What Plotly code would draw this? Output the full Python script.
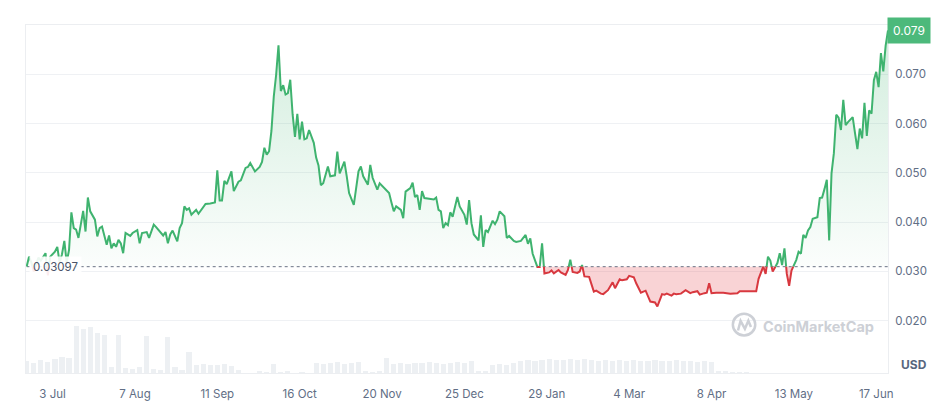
import numpy as np
import pandas as pd
import plotly.graph_objects as go

# precio diario (dias desde el inicio) y volumen
start = pd.Timestamp("2023-06-22")
base = 0.03097

days = [0, 1, 2, 3, 5, 6, 8, 9, 10, 12,
        13, 14, 15, 16, 17, 18, 19, 20, 21, 22,
        24, 25, 26, 27, 29, 30, 31, 32, 33, 34,
        35, 36, 37, 38, 39, 40, 41, 42, 44, 45,
        47, 48, 49, 51, 52, 54, 55, 56, 58, 59,
        60, 61, 62, 64, 65, 66, 67, 68, 69, 70,
        71, 72, 73, 75, 76, 78, 80, 81, 82, 83,
        84, 85, 87, 88, 90, 91, 93, 94, 95, 97,
        99, 100, 101, 102, 103, 104, 105, 106, 107, 108,
        109, 110, 111, 112, 113, 114, 115, 116, 117, 118,
        119, 120, 121, 122, 123, 124, 125, 126, 128, 129,
        131, 132, 133, 135, 136, 137, 139, 140, 141, 142,
        143, 145, 146, 147, 149, 150, 152, 154, 155, 156,
        157, 159, 160, 161, 163, 164, 165, 166, 167, 168,
        169, 171, 173, 174, 175, 176, 177, 178, 179, 180,
        181, 183, 184, 186, 187, 188, 189, 190, 192, 193,
        194, 195, 196, 198, 199, 200, 201, 203, 204, 205,
        207, 208, 210, 212, 213, 214, 215, 217, 218, 219,
        220, 222, 223, 224, 226, 227, 229, 230, 231, 232,
        234, 235, 236, 237, 239, 241, 242, 244, 245, 247,
        248, 249, 250, 252, 253, 255, 256, 258, 259, 261,
        263, 265, 267, 268, 270, 271, 272, 274, 275, 276,
        278, 280, 282, 283, 285, 286, 288, 289, 290, 291,
        293, 296, 299, 302, 303, 306, 310, 311, 313, 314,
        315, 316, 317, 319, 320, 321, 322, 323, 324, 325,
        327, 328, 329, 330, 331, 332, 333, 334, 336, 337,
        338, 339, 340, 341, 342, 343, 344, 345, 346, 347,
        348, 349, 351, 352, 353, 354, 355, 356, 357, 358,
        359, 360, 361, 362, 363, 364, 365, 366]

price = [0.0310, 0.0330, 0.0318, 0.0300, 0.0328, 0.0322, 0.0337, 0.0292, 0.0330, 0.0340,
         0.0350, 0.0318, 0.0335, 0.0362, 0.0318, 0.0344, 0.0420, 0.0388, 0.0385, 0.0368,
         0.0423, 0.0381, 0.0450, 0.0422, 0.0405, 0.0371, 0.0388, 0.0391, 0.0375, 0.0354,
         0.0373, 0.0347, 0.0357, 0.0350, 0.0364, 0.0357, 0.0337, 0.0378, 0.0372, 0.0378,
         0.0384, 0.0357, 0.0378, 0.0380, 0.0368, 0.0395, 0.0390, 0.0385, 0.0373, 0.0380,
         0.0357, 0.0375, 0.0383, 0.0361, 0.0388, 0.0398, 0.0432, 0.0425, 0.0428, 0.0415,
         0.0420, 0.0425, 0.0417, 0.0430, 0.0437, 0.0438, 0.0440, 0.0505, 0.0444, 0.0444,
         0.0484, 0.0477, 0.0503, 0.0463, 0.0482, 0.0485, 0.0510, 0.0512, 0.0520, 0.0503,
         0.0512, 0.0522, 0.0551, 0.0537, 0.0544, 0.0585, 0.0655, 0.0699, 0.0759, 0.0666,
         0.0678, 0.0659, 0.0662, 0.0689, 0.0619, 0.0573, 0.0620, 0.0568, 0.0604, 0.0568,
         0.0570, 0.0587, 0.0575, 0.0561, 0.0531, 0.0515, 0.0475, 0.0479, 0.0513, 0.0493,
         0.0495, 0.0543, 0.0499, 0.0523, 0.0493, 0.0459, 0.0435, 0.0466, 0.0503, 0.0513,
         0.0493, 0.0476, 0.0516, 0.0490, 0.0466, 0.0479, 0.0469, 0.0459, 0.0440, 0.0422,
         0.0432, 0.0425, 0.0408, 0.0462, 0.0469, 0.0480, 0.0451, 0.0455, 0.0425, 0.0463,
         0.0449, 0.0447, 0.0446, 0.0450, 0.0425, 0.0422, 0.0388, 0.0398, 0.0394, 0.0420,
         0.0411, 0.0451, 0.0432, 0.0415, 0.0395, 0.0445, 0.0398, 0.0375, 0.0363, 0.0414,
         0.0350, 0.0384, 0.0380, 0.0403, 0.0396, 0.0405, 0.0422, 0.0412, 0.0368, 0.0372,
         0.0362, 0.0360, 0.0362, 0.0374, 0.0356, 0.0367, 0.0336, 0.0309, 0.0309, 0.0357,
         0.0296, 0.0298, 0.0302, 0.0296, 0.0303, 0.0298, 0.0293, 0.0303, 0.0324, 0.0299,
         0.0297, 0.0300, 0.0313, 0.0290, 0.0289, 0.0259, 0.0261, 0.0255, 0.0254, 0.0262,
         0.0270, 0.0278, 0.0266, 0.0284, 0.0282, 0.0284, 0.0291, 0.0288, 0.0276, 0.0257,
         0.0261, 0.0239, 0.0237, 0.0229, 0.0254, 0.0253, 0.0255, 0.0251, 0.0255, 0.0254,
         0.0255, 0.0262, 0.0256, 0.0258, 0.0260, 0.0253, 0.0256, 0.0257, 0.0276, 0.0256,
         0.0257, 0.0257, 0.0255, 0.0256, 0.0260, 0.0260, 0.0260, 0.0285, 0.0310, 0.0295,
         0.0330, 0.0322, 0.0300, 0.0317, 0.0337, 0.0313, 0.0347, 0.0295, 0.0271, 0.0302,
         0.0323, 0.0340, 0.0336, 0.0374, 0.0368, 0.0383, 0.0390, 0.0407, 0.0410, 0.0449,
         0.0450, 0.0467, 0.0486, 0.0363, 0.0499, 0.0540, 0.0618, 0.0612, 0.0587, 0.0648,
         0.0597, 0.0603, 0.0613, 0.0580, 0.0548, 0.0590, 0.0570, 0.0642, 0.0575, 0.0627,
         0.0620, 0.0688, 0.0705, 0.0674, 0.0743, 0.0706, 0.0758, 0.0789]

# volumen cada 3 dias (escala relativa)
vol_step = 3
volume = [12, 10, 13, 11, 14, 16, 15, 47, 44, 46,
          40, 38, 6, 38, 5, 4, 6, 37, 4, 3,
          36, 6, 3, 21, 8, 9, 8, 8, 9, 7,
          3, 0, 0, 2, 1, 9, 1, 2, 0, 1,
          0, 10, 9, 10, 11, 9, 10, 11, 2, 1,
          2, 15, 9, 10, 9, 10, 10, 11, 10, 9,
          10, 11, 10, 12, 2, 2, 8, 9, 8, 10,
          12, 13, 12, 13, 14, 13, 13, 14, 13, 14,
          13, 12, 13, 12, 13, 12, 13, 12, 12, 13,
          12, 12, 13, 12, 12, 11, 12, 11, 2, 2,
          1, 1, 1]

tick_dates = ["2023-07-03", "2023-08-07", "2023-09-11", "2023-10-16", "2023-11-20", "2023-12-25",
              "2024-01-29", "2024-03-04", "2024-04-08", "2024-05-13", "2024-06-17"]
tick_text = ["3 Jul", "7 Aug", "11 Sep", "16 Oct", "20 Nov", "25 Dec",
             "29 Jan", "4 Mar", "8 Apr", "13 May", "17 Jun"]

y_ticks = [0.020, 0.030, 0.040, 0.050, 0.060, 0.070]

green = "#3fb36f"
red = "#d8383f"
grey = "#616e85"

# corto la linea donde cruza el precio inicial
xs, ys = [], []
for i in range(len(days)):
    if i > 0 and (price[i-1] - base) * (price[i] - base) < 0:
        t = (base - price[i-1]) / (price[i] - price[i-1])
        xs.append(days[i-1] + t * (days[i] - days[i-1]))
        ys.append(base)
    xs.append(days[i])
    ys.append(price[i])
xs = np.array(xs, dtype=float)
ys = np.array(ys)
fechas = start + pd.to_timedelta(xs, unit="D")

arriba = np.where(ys >= base, ys, np.nan)
abajo = np.where(ys <= base, ys, np.nan)

vol_fechas = start + pd.to_timedelta(np.arange(len(volume)) * vol_step, unit="D")

fig = go.Figure()

# volumen
fig.add_trace(go.Bar(x=vol_fechas, y=volume, yaxis="y2", marker_color="#edf0f3",
                     marker_line_width=0, width=2.2 * 86400000, hoverinfo="skip"))

# rellenos
fig.add_trace(go.Scatter(x=fechas, y=np.full(len(ys), base), mode="lines",
                         line=dict(width=0), hoverinfo="skip"))
fig.add_trace(go.Scatter(x=fechas, y=np.maximum(ys, base), mode="lines", line=dict(width=0),
                         fill="tonexty",
                         fillgradient=dict(type="vertical", start=base, stop=0.080,
                                           colorscale=[[0, "rgba(63,179,111,0.02)"],
                                                       [1, "rgba(63,179,111,0.24)"]]),
                         hoverinfo="skip"))
fig.add_trace(go.Scatter(x=fechas, y=np.full(len(ys), base), mode="lines",
                         line=dict(width=0), hoverinfo="skip"))
fig.add_trace(go.Scatter(x=fechas, y=np.minimum(ys, base), mode="lines", line=dict(width=0),
                         fill="tonexty", fillcolor="rgba(230,70,78,0.24)", hoverinfo="skip"))

# linea punteada del precio inicial
fig.add_trace(go.Scatter(x=[fechas[0], fechas[-1]], y=[base, base], mode="lines",
                         line=dict(color="#6b7385", width=1, dash="dot"), hoverinfo="skip"))

# lineas de precio
fig.add_trace(go.Scatter(x=fechas, y=arriba, mode="lines", line=dict(color=green, width=2)))
fig.add_trace(go.Scatter(x=fechas, y=abajo, mode="lines", line=dict(color=red, width=2)))

# etiquetas
fig.add_annotation(xref="paper", x=0.004, y=base, yref="y", text="0.03097", showarrow=False,
                   xanchor="left", font=dict(size=11.5, color="#4b5468"),
                   bgcolor="rgba(255,255,255,0.9)", borderpad=3)
fig.add_annotation(xref="paper", x=1, y=price[-1], yref="y", text=f"{price[-1]:.3f}",
                   showarrow=False, xanchor="left", xshift=-1,
                   font=dict(size=12, color="white"), bgcolor="#4cb97b", borderpad=5)
fig.add_annotation(xref="paper", x=1, yref="paper", y=0.023, text="<b>USD</b>", showarrow=False,
                   xanchor="left", yanchor="middle", xshift=11,
                   font=dict(size=12, color="#58667e"))

# marca de agua
fig.add_shape(type="circle", xref="paper", yref="paper", x0=0.820, x1=0.846, y0=0.108, y1=0.170,
              line=dict(color="#cdd0d6", width=2.5))
fig.add_shape(type="path", xref="paper", yref="paper",
              path="M 0.826 0.122 L 0.829 0.150 L 0.834 0.127 L 0.838 0.150 L 0.841 0.132",
              line=dict(color="#cdd0d6", width=2.5))
fig.add_annotation(xref="paper", yref="paper", x=0.853, y=0.135, text="<b>CoinMarketCap</b>",
                   showarrow=False, xanchor="left", yanchor="middle",
                   font=dict(size=14.5, color="#cdd0d6"))

fig.update_xaxes(range=[start - pd.Timedelta(hours=7), start + pd.Timedelta(days=366)],
                 tickvals=tick_dates, ticktext=tick_text, showgrid=False,
                 showline=True, mirror=True, linecolor="#eceef1", linewidth=1,
                 ticks="outside", ticklen=10, tickcolor="rgba(0,0,0,0)",
                 tickfont=dict(size=11.5, color=grey), zeroline=False)

# la pagina deja 8px de margen, lo descuento del tamano
fig.update_layout(
    width=941, height=408,
    margin=dict(l=18, r=61, t=17, b=43),
    paper_bgcolor="white", plot_bgcolor="white",
    font=dict(family="Inter, Roboto, sans-serif"),
    showlegend=False,
    bargap=0,
    yaxis=dict(range=[0.0094, 0.080], side="right", tickvals=y_ticks, tickformat=".3f",
               gridcolor="#eff1f4", showline=True, mirror=True, linecolor="#eceef1",
               ticks="outside", ticklen=4, tickcolor="rgba(0,0,0,0)",
               tickfont=dict(size=11.5, color=grey), zeroline=False),
    yaxis2=dict(range=[0, 348], overlaying="y", visible=False),
)

fig.write_html("out.html")
